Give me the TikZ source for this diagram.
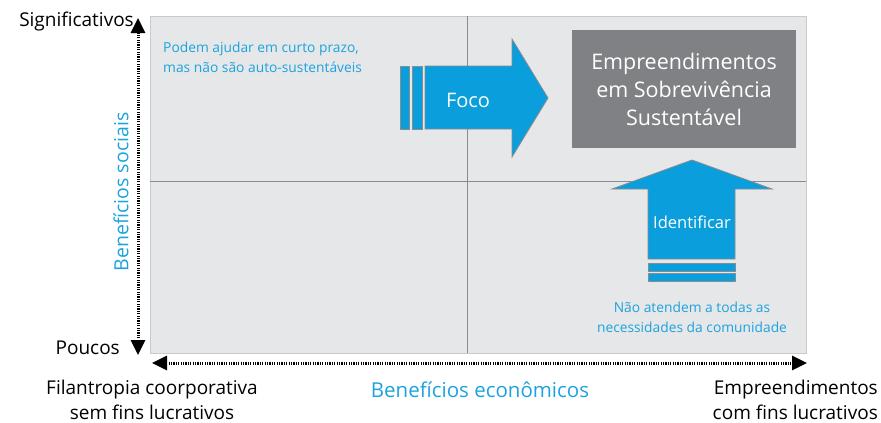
\documentclass[tikz,border=0pt]{standalone}
\usepackage{fontspec}
\setmainfont{Open Sans}
\usetikzlibrary{arrows.meta}
\definecolor{azul}{HTML}{0A9FDC}
\definecolor{textoazul}{HTML}{1CA3DE}
\definecolor{painel}{HTML}{E6E7E8}
\definecolor{borda}{HTML}{C9CACC}
\definecolor{caixa}{HTML}{808184}
\definecolor{contorno}{HTML}{8A8B8D}
\begin{document}
\begin{tikzpicture}[x=1pt,y=-1pt,
    seta/.style={fill=azul,draw=contorno,line width=0.8pt},
    eixo/.style={line width=3pt,dash pattern=on 1.2pt off 1.2pt,
      {Triangle[length=15pt,width=14pt]}-{Triangle[length=15pt,width=14pt]}},
    rotulo/.style={font=\fontsize{19}{25}\selectfont,inner sep=0pt},
    nota/.style={font=\fontsize{13.8}{20}\selectfont,text=textoazul,inner sep=0pt}]
    \useasboundingbox (0,0) rectangle (881,423);
    % painel e quadrantes
    \draw[fill=painel,draw=borda,line width=1pt] (150,16) rectangle (806,353);
    \draw[contorno,line width=1pt] (467,16) -- (467,353);
    \draw[contorno,line width=1pt] (150,181) -- (806,181);
    % eixos
    \coordinate (topo) at (138,18);
    \coordinate (base) at (138,355);
    \coordinate (esq) at (152,363);
    \coordinate (dir) at (807,363);
    \draw[eixo] (base) -- (topo);
    \draw[eixo] (esq) -- (dir);
    \node[rotulo,anchor=east] (signif) at (134,22) {Significativos};
    \node[rotulo,anchor=east] (poucos) at (120,348) {Poucos};
    \node[rotulo,text=textoazul,rotate=90,font=\fontsize{19.5}{22}\selectfont] (sociais) at (121,192) {Benefícios sociais};
    \node[rotulo,text=textoazul,font=\fontsize{20.5}{22}\selectfont] (econ) at (480,390) {Benefícios econômicos};
    \node[rotulo,align=center] (filant) at (152,400) {Filantropia coorporativa\\sem fins lucrativos};
    \node[rotulo,align=right,anchor=east] (comfins) at (878,400) {Empreendimentos\\com fins lucrativos};
    % caixa de destino
    \node[fill=caixa,text=white,minimum width=224pt,minimum height=118pt,align=center,
      font=\fontsize{21.5}{28}\selectfont] (sobrev) at (684,89) {Empreendimentos\\em Sobrevivência\\Sustentável};
    % seta foco
    \fill[seta] (400,66) rectangle (409,129);
    \fill[seta] (412,66) rectangle (422,129);
    \filldraw[seta] (425,66) -- (512,66) -- (512,39) -- (548,98) -- (512,157) -- (512,129) -- (425,129) -- cycle;
    \node[rotulo,text=white,font=\fontsize{20}{22}\selectfont] (foco) at (468,100) {Foco};
    % seta identificar
    \filldraw[seta] (648,259) -- (648,189) -- (612,189) -- (692,160) -- (772,189) -- (735,189) -- (735,259) -- cycle;
    \filldraw[seta] (648,263) rectangle (735,271);
    \filldraw[seta] (648,273) rectangle (735,281);
    \node[rotulo,text=white,font=\fontsize{16.5}{20}\selectfont] (ident) at (692,222) {Identificar};
    % notas
    \node[nota,anchor=west,align=left] (curto) at (163,57) {Podem ajudar em curto prazo,\\mas não são auto-sustentáveis};
    \node[nota,align=center] (naoatend) at (692,317) {Não atendem a todas as\\necessidades da comunidade};
\end{tikzpicture}
\end{document}
